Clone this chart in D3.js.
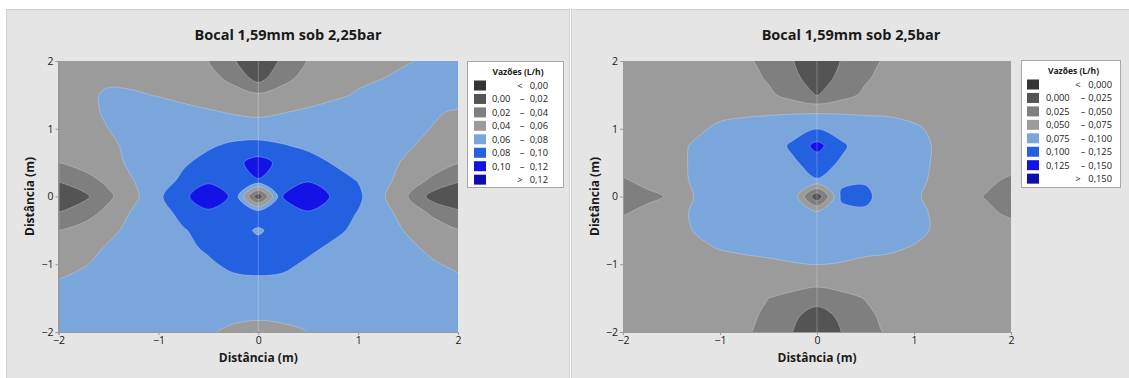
<!DOCTYPE html>
<html><head><meta charset="utf-8">
<script src="https://cdn.jsdelivr.net/npm/d3@7"></script>
<style>
body{margin:0;background:#fff}
svg{display:block}
text{font-family:"Open Sans","Noto Sans",sans-serif;fill:#1a1a1a}
</style></head>
<body><svg id="c" width="1129" height="378"></svg>
<script>
// grid positions (m)
const gridX = [-2,-1.75,-1.5,-1.25,-1,-0.75,-0.5,-0.25,0,0.25,0.5,0.75,1,1.25,1.5,1.75,2];
const gridY = [2,1.75,1.5,1.25,1,0.75,0.5,0.25,0,-0.25,-0.5,-0.75,-1,-1.25,-1.5,-1.75,-2];
const axisTicks = [-2,-1,0,1,2];

// Vazões (L/h) – Bocal 1,59mm sob 2,25bar (rows: y = 2 ... -2, cols: x = -2 ... 2)
const values225 = [
 [0.050,0.052,0.053,0.052,0.050,0.046,0.040,0.022,0.004,0.024,0.041,0.047,0.051,0.055,0.059,0.063,0.066],
 [0.048,0.052,0.056,0.055,0.053,0.050,0.046,0.035,0.012,0.035,0.046,0.052,0.056,0.0598,0.064,0.068,0.071],
 [0.047,0.055,0.063,0.062,0.059,0.055,0.050,0.047,0.043,0.047,0.051,0.056,0.062,0.067,0.070,0.072,0.073],
 [0.046,0.054,0.063,0.068,0.068,0.065,0.062,0.058,0.055,0.059,0.063,0.068,0.070,0.070,0.067,0.063,0.057],
 [0.044,0.052,0.060,0.067,0.071,0.072,0.072,0.071,0.070,0.071,0.072,0.073,0.073,0.071,0.066,0.059,0.052],
 [0.041,0.049,0.057,0.064,0.070,0.074,0.078,0.083,0.085,0.081,0.077,0.075,0.073,0.069,0.062,0.054,0.046],
 [0.040,0.047,0.055,0.063,0.070,0.078,0.085,0.094,0.108,0.094,0.086,0.079,0.074,0.066,0.057,0.049,0.041],
 [0.022,0.033,0.045,0.060,0.072,0.083,0.097,0.095,0.0995,0.095,0.098,0.086,0.079,0.066,0.050,0.037,0.023],
 [0.008,0.015,0.036,0.055,0.076,0.097,0.109,0.0978,0.005,0.1005,0.112,0.098,0.084,0.062,0.040,0.012,0.006],
 [0.021,0.032,0.046,0.063,0.074,0.084,0.097,0.094,0.095,0.095,0.098,0.089,0.079,0.066,0.052,0.037,0.024],
 [0.040,0.047,0.055,0.066,0.073,0.079,0.085,0.090,0.077,0.090,0.089,0.084,0.076,0.068,0.058,0.050,0.041],
 [0.046,0.052,0.062,0.068,0.073,0.077,0.082,0.087,0.088,0.088,0.084,0.077,0.073,0.070,0.064,0.055,0.048],
 [0.052,0.059,0.064,0.068,0.071,0.074,0.078,0.083,0.086,0.084,0.077,0.073,0.071,0.069,0.067,0.062,0.056],
 [0.061,0.064,0.067,0.069,0.071,0.073,0.075,0.077,0.077,0.076,0.074,0.072,0.070,0.069,0.068,0.066,0.064],
 [0.065,0.066,0.068,0.069,0.070,0.071,0.071,0.071,0.071,0.071,0.070,0.070,0.069,0.068,0.068,0.067,0.066],
 [0.066,0.067,0.068,0.068,0.068,0.068,0.068,0.069,0.070,0.070,0.069,0.068,0.068,0.068,0.067,0.067,0.066],
 [0.067,0.067,0.067,0.067,0.067,0.066,0.064,0.052,0.038,0.050,0.0605,0.065,0.067,0.067,0.067,0.067,0.067]
];

// Vazões (L/h) – Bocal 1,59mm sob 2,5bar
const values25 = [
 [0.065,0.066,0.066,0.066,0.064,0.055,0.042,0.026,0.005,0.026,0.042,0.055,0.064,0.066,0.066,0.066,0.065],
 [0.066,0.067,0.067,0.067,0.066,0.060,0.047,0.030,0.015,0.030,0.047,0.060,0.066,0.067,0.067,0.067,0.066],
 [0.066,0.067,0.068,0.068,0.068,0.065,0.055,0.040,0.024,0.040,0.055,0.065,0.068,0.068,0.068,0.067,0.066],
 [0.066,0.067,0.068,0.069,0.071,0.0725,0.073,0.073,0.072,0.073,0.073,0.0725,0.071,0.069,0.068,0.067,0.066],
 [0.064,0.066,0.068,0.072,0.078,0.080,0.082,0.088,0.0995,0.088,0.082,0.081,0.077,0.072,0.068,0.066,0.064],
 [0.063,0.066,0.070,0.077,0.080,0.082,0.085,0.105,0.133,0.105,0.085,0.082,0.080,0.073,0.069,0.066,0.063],
 [0.060,0.064,0.069,0.078,0.081,0.083,0.086,0.096,0.112,0.097,0.087,0.084,0.081,0.072,0.069,0.064,0.060],
 [0.048,0.058,0.068,0.078,0.082,0.084,0.086,0.090,0.099,0.095,0.098,0.086,0.080,0.071,0.064,0.056,0.046],
 [0.040,0.044,0.053,0.077,0.082,0.085,0.088,0.092,0.005,0.104,0.104,0.090,0.078,0.068,0.060,0.048,0.024],
 [0.048,0.058,0.068,0.078,0.082,0.084,0.085,0.086,0.085,0.092,0.097,0.088,0.081,0.071,0.064,0.056,0.045],
 [0.060,0.064,0.069,0.076,0.080,0.082,0.083,0.084,0.085,0.085,0.086,0.084,0.080,0.072,0.068,0.064,0.060],
 [0.062,0.065,0.068,0.072,0.076,0.078,0.080,0.082,0.083,0.082,0.080,0.078,0.074,0.070,0.067,0.065,0.062],
 [0.063,0.065,0.067,0.068,0.069,0.071,0.072,0.074,0.0755,0.074,0.071,0.070,0.069,0.068,0.066,0.065,0.063],
 [0.064,0.065,0.066,0.067,0.067,0.066,0.064,0.061,0.058,0.061,0.064,0.066,0.067,0.067,0.066,0.065,0.064],
 [0.065,0.066,0.066,0.066,0.065,0.060,0.050,0.043,0.035,0.043,0.051,0.060,0.065,0.066,0.066,0.066,0.065],
 [0.065,0.066,0.066,0.066,0.064,0.057,0.045,0.030,0.015,0.030,0.045,0.057,0.064,0.066,0.066,0.066,0.065],
 [0.065,0.066,0.066,0.066,0.064,0.054,0.041,0.025,0.006,0.025,0.041,0.054,0.064,0.066,0.066,0.066,0.065]
];

const thresholds225 = [0, 0.02, 0.04, 0.06, 0.08, 0.10, 0.12];
const thresholds25  = [0, 0.025, 0.05, 0.075, 0.10, 0.125, 0.15];
const bandColors = ["#333333","#545454","#7f7f7f","#9b9b9b","#7ba6db","#2461e1","#1313e7","#0e0eab"];

const titles = ["Bocal 1,59mm sob 2,25bar", "Bocal 1,59mm sob 2,5bar"];
const axisLabel = "Distância (m)";
const legendTitle = "Vazões (L/h)";

const charts = [
  {title:titles[0], values:values225, thresholds:thresholds225, dec:2,
   panel:[6,9,564,372], plot:[58.5,61,458,332], ylab:30,
   legend:{x:467,y:61,w:96,h:126,sw:7,lo:25,dash:55,hi:81,lt:53}},
  {title:titles[1], values:values25, thresholds:thresholds25, dec:3,
   panel:[571,9,560,372], plot:[623,61,1011,332], ylab:595,
   legend:{x:1021,y:60,w:99,h:127,sw:6,lo:25,dash:62,hi:91,lt:57}}
];

const svg = d3.select("#c");
const fmtNum = (d, dec) => d3.format("." + dec + "f")(d).replace(".", ",");

charts.forEach((c, ci) => {
  const [px, py, pw, ph] = c.panel;
  svg.append("rect").attr("x", px+0.5).attr("y", py+0.5).attr("width", pw-1).attr("height", ph)
     .attr("fill", "#e5e5e5").attr("stroke", "#d0d0d0");

  const [x0, y0, x1, y1] = c.plot;
  const xs = d3.scaleLinear().domain([-2, 2]).range([x0, x1]);
  const ys = d3.scaleLinear().domain([-2, 2]).range([y1, y0]);
  const gi = d3.scaleLinear().domain([0, gridX.length - 1]).range([gridX[0], gridX[gridX.length-1]]);
  const gj = d3.scaleLinear().domain([0, gridY.length - 1]).range([gridY[0], gridY[gridY.length-1]]);

  const clipId = "clip" + ci;
  svg.append("clipPath").attr("id", clipId).append("rect")
     .attr("x", x0).attr("y", y0).attr("width", x1 - x0).attr("height", y1 - y0);

  const g = svg.append("g").attr("clip-path", `url(#${clipId})`);
  g.append("rect").attr("x", x0).attr("y", y0).attr("width", x1 - x0).attr("height", y1 - y0)
   .attr("fill", bandColors[0]);

  const n = gridX.length, m = gridY.length;
  const flat = c.values.flat();
  const contours = d3.contours().size([n, m]).thresholds(c.thresholds)(flat);
  const line = d3.line().curve(d3.curveCatmullRomClosed.alpha(0.5));
  const toPx = p => [xs(gi(p[0] - 0.5)), ys(gj(p[1] - 0.5))];

  contours.forEach((ct, k) => {
    let d = "";
    ct.coordinates.forEach(poly => poly.forEach(ring => {
      const pts = ring.slice(0, ring.length - 1).map(toPx);
      if (pts.length > 2) d += line(pts);
    }));
    if (!d) return;
    g.append("path").attr("d", d).attr("fill", bandColors[k + 1]).attr("fill-rule", "evenodd")
     .attr("stroke", "rgba(255,255,255,0.35)").attr("stroke-width", 0.7);
  });

  // faint reference line at x = 0
  g.append("line").attr("x1", xs(0)).attr("x2", xs(0)).attr("y1", y0).attr("y2", y1)
   .attr("stroke", "rgba(255,255,255,0.25)").attr("stroke-width", 1);

  // axes
  const ax = svg.append("g").attr("transform", `translate(0,${y1})`)
     .call(d3.axisBottom(xs).tickValues(axisTicks).tickSize(3).tickPadding(2).tickFormat(d3.format("d")));
  const ay = svg.append("g").attr("transform", `translate(${x0},0)`)
     .call(d3.axisLeft(ys).tickValues(axisTicks).tickSize(3).tickPadding(2).tickFormat(d3.format("d")));
  [ax, ay].forEach(a => {
    a.select(".domain").attr("stroke", "#9a9a9a");
    a.selectAll(".tick line").attr("stroke", "#9a9a9a");
    a.selectAll(".tick text").attr("font-size", 10.5).attr("fill", "#1a1a1a")
      .attr("font-family", "'Open Sans','Noto Sans',sans-serif");
  });

  // titles
  svg.append("text").attr("x", px + pw/2).attr("y", 40).attr("text-anchor", "middle")
     .attr("font-size", 14.5).attr("font-weight", "bold").text(c.title);
  svg.append("text").attr("x", (x0 + x1)/2).attr("y", 362).attr("text-anchor", "middle")
     .attr("font-size", 12).attr("font-weight", "bold").text(axisLabel);
  svg.append("text").attr("transform", `translate(${c.ylab},${(y0 + y1)/2}) rotate(-90)`)
     .attr("text-anchor", "middle").attr("dy", "0.35em")
     .attr("font-size", 12).attr("font-weight", "bold").text(axisLabel);

  // legend
  const L = c.legend;
  const lg = svg.append("g").attr("transform", `translate(${L.x},${L.y})`);
  lg.append("rect").attr("x", 0.5).attr("y", 0.5).attr("width", L.w).attr("height", L.h)
    .attr("fill", "#fff").attr("stroke", "#a8a8a8");
  lg.append("text").attr("x", L.w/2 + 3).attr("y", 13.5).attr("text-anchor", "middle")
    .attr("font-size", 8.5).attr("font-weight", "bold").text(legendTitle);
  const th = c.thresholds;
  bandColors.forEach((col, i) => {
    const cy = 24.5 + i * 13.45;
    lg.append("rect").attr("x", L.sw).attr("y", cy - 5).attr("width", 12).attr("height", 10).attr("fill", col);
    const t = lg.append("g").attr("font-size", 9.3);
    if (i === 0) {
      t.append("text").attr("x", L.lt).attr("y", cy + 3.3).attr("text-anchor", "middle").text("<");
      t.append("text").attr("x", L.hi).attr("y", cy + 3.3).attr("text-anchor", "end").text(fmtNum(th[0], c.dec));
    } else if (i === bandColors.length - 1) {
      t.append("text").attr("x", L.lt).attr("y", cy + 3.3).attr("text-anchor", "middle").text(">");
      t.append("text").attr("x", L.hi).attr("y", cy + 3.3).attr("text-anchor", "end").text(fmtNum(th[th.length-1], c.dec));
    } else {
      t.append("text").attr("x", L.lo).attr("y", cy + 3.3).text(fmtNum(th[i-1], c.dec));
      t.append("text").attr("x", L.dash).attr("y", cy + 3.3).attr("text-anchor", "middle").text("–");
      t.append("text").attr("x", L.hi).attr("y", cy + 3.3).attr("text-anchor", "end").text(fmtNum(th[i], c.dec));
    }
  });
});
</script></body></html>
